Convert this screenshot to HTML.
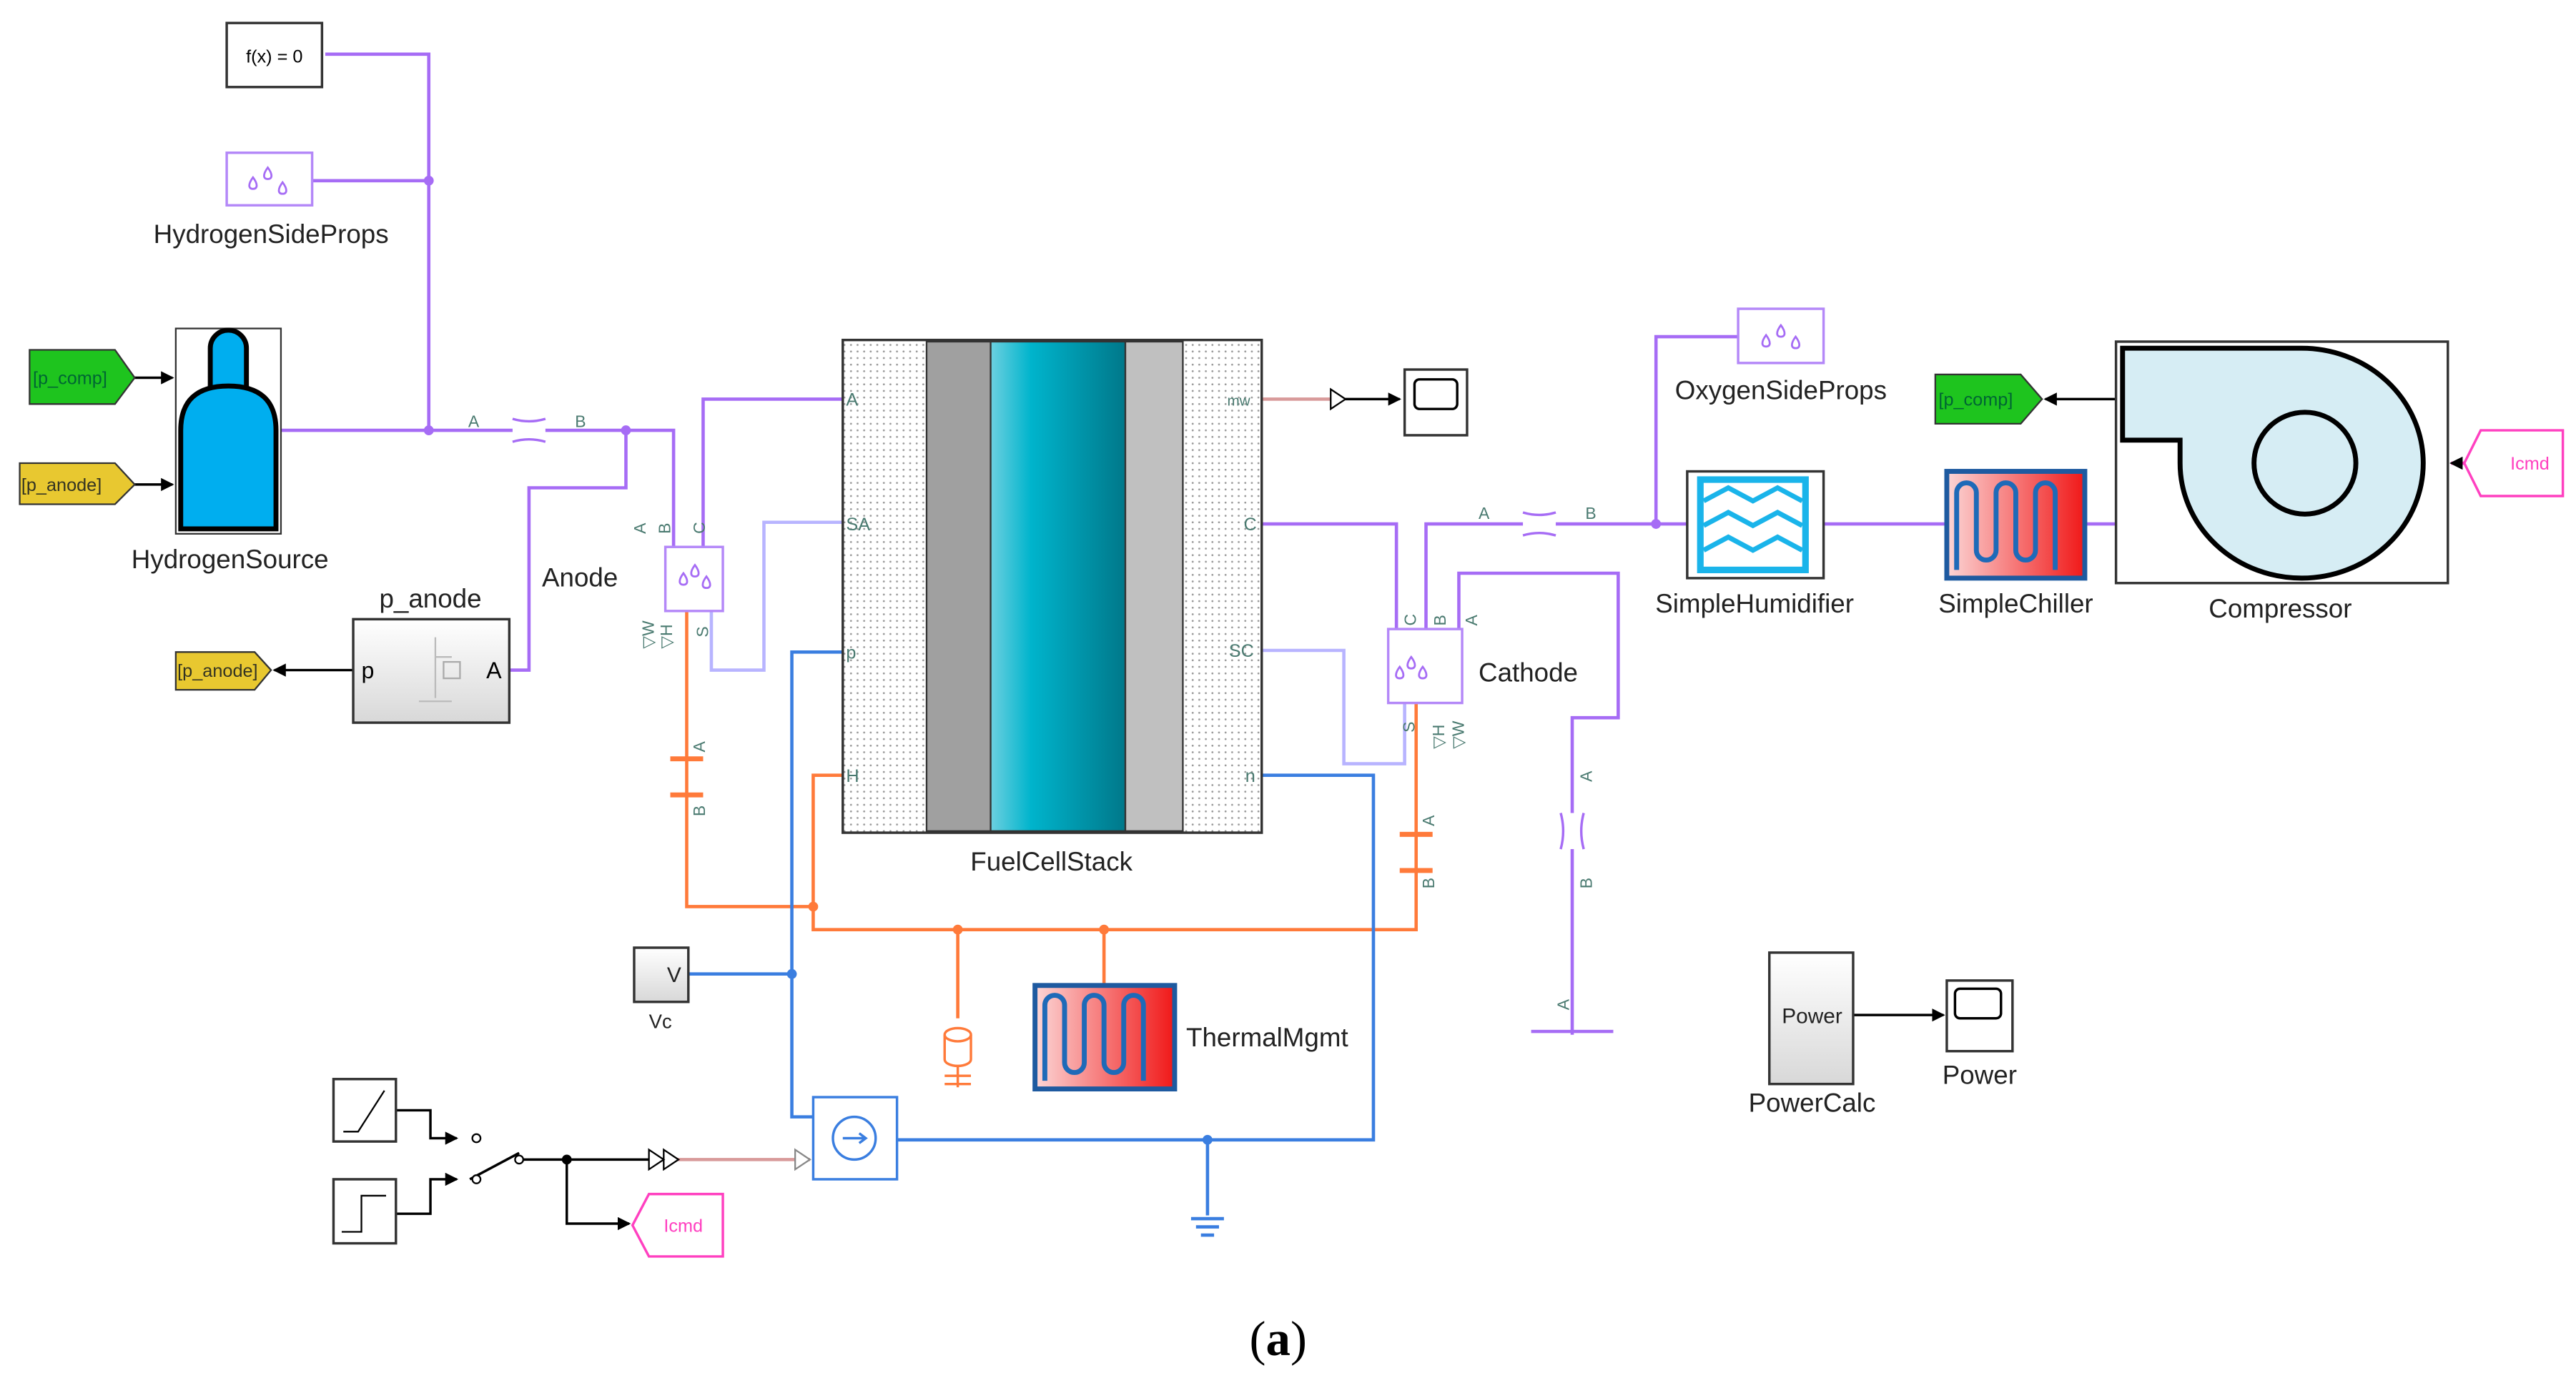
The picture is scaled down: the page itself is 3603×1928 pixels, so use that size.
<!DOCTYPE html>
<html><head><meta charset="utf-8"><style>html,body{margin:0;padding:0;background:#fff}svg{display:block}</style></head>
<body>
<svg width="3603" height="1928" viewBox="0 0 1568 839" preserveAspectRatio="none" xmlns="http://www.w3.org/2000/svg" font-family="Liberation Sans, sans-serif">
<defs>
<pattern id="dots" width="4" height="4" patternUnits="userSpaceOnUse"><rect width="4" height="4" fill="#fff"/><circle cx="2" cy="2" r="0.6" fill="#999"/></pattern>
<linearGradient id="cyan" x1="0" x2="1"><stop offset="0" stop-color="#6cd0e0"/><stop offset="0.3" stop-color="#00b4cc"/><stop offset="1" stop-color="#00788a"/></linearGradient>
<linearGradient id="red" x1="0" x2="1"><stop offset="0" stop-color="#fcd6d6"/><stop offset="1" stop-color="#f01818"/></linearGradient>
<linearGradient id="gray" x1="0" x2="0" y1="0" y2="1"><stop offset="0" stop-color="#fff"/><stop offset="1" stop-color="#d8d8d8"/></linearGradient>
<marker id="ar" markerWidth="8" markerHeight="8" refX="7" refY="4" orient="auto" markerUnits="userSpaceOnUse"><path d="M0,0L8,4L0,8z" fill="#000"/></marker>
<path id="drop" d="M0,-4C3,0 3,3 0,3C-3,3 -3,0 0,-4z" fill="none" stroke="#a66cf5" stroke-width="1.2"/>
</defs>
<g fill="none" stroke-width="2">
<g stroke="#a66cf5">
<path d="M198,33H261V262"/><path d="M190,110H261"/>
<path d="M171,262H312M332,262H410V345"/>
<path d="M381,262V297H322V408H310"/>
<path d="M428,345V243H513"/>
<path d="M850,385V319H768"/>
<path d="M868,385V319H927M947,319H1027"/>
<path d="M1058,205H1008V319"/>
<path d="M888,385V349H985V437H957V495M957,517V630"/>
<path d="M932,628H982"/>
<path d="M1110,319H1185M1269,319H1288"/>
<path d="M312,255q10,3 20,0M312,269q10,-3 20,0" stroke-width="1.5"/>
<path d="M927,312q10,3 20,0M927,326q10,-3 20,0" stroke-width="1.5"/>
<path d="M950,495q3,11 0,22M964,495q-3,11 0,22" stroke-width="1.5"/>
</g>
<g stroke="#b8b4ff"><path d="M433,372V408H465V318H513"/><path d="M855,428V465H818V396H768"/></g>
<g stroke="#ff7a3a">
<path d="M418,360V552H495V472H513"/><path d="M495,552V566H862V420"/>
<path d="M583,566V620M672,566V600"/>
<path d="M408,462H428M408,484H428M852,508H872M852,530H872" stroke-width="3"/>
</g>
<g stroke="#3a7ee0">
<path d="M513,397H482V680H495"/><path d="M419,593H482"/>
<path d="M546,694H836V472H768"/><path d="M735,694V740"/>
<path d="M725,742H745M728,747H742M731,752H739"/>
</g>
<path d="M768,243H810" stroke="#d89a9a"/>
<path d="M410,706H493" stroke="#d89a9a"/>
<g stroke="#000" stroke-width="1.5">
<path d="M818,243H852" marker-end="url(#ar)"/>
<path d="M82,230H105" marker-end="url(#ar)"/><path d="M82,295H105" marker-end="url(#ar)"/>
<path d="M215,408H167" marker-end="url(#ar)"/>
<path d="M1288,243H1245" marker-end="url(#ar)"/>
<path d="M1128,618H1183" marker-end="url(#ar)"/>
<path d="M241,676H262V693H278" marker-end="url(#ar)"/>
<path d="M241,739H262V718H278" marker-end="url(#ar)"/>
<path d="M286,718L316,702M318,706H395"/>
<path d="M345,706V745H383" marker-end="url(#ar)"/>
</g>
<path d="M1500,282H1492" stroke="#ff40c0" stroke-width="2" marker-end="url(#ar)"/>
</g>
<g fill="#a66cf5"><circle cx="261" cy="110" r="3"/><circle cx="261" cy="262" r="3"/><circle cx="381" cy="262" r="3"/><circle cx="1008" cy="319" r="3"/></g>
<g fill="#ff7a3a"><circle cx="495" cy="552" r="3"/><circle cx="583" cy="566" r="3"/><circle cx="672" cy="566" r="3"/></g>
<g fill="#3a7ee0"><circle cx="482" cy="593" r="3"/><circle cx="735" cy="694" r="3"/></g>
<circle cx="345" cy="706" r="3"/>
<circle cx="290" cy="693" r="2.5" fill="#fff" stroke="#000"/><circle cx="290" cy="718" r="2.5" fill="#fff" stroke="#000"/><circle cx="316" cy="706" r="2.5" fill="#fff" stroke="#000"/>
<path d="M395,700L404,706L395,712zM404,700L413,706L404,712z" fill="#fff" stroke="#000"/>
<path d="M810,237L819,243L810,249z" fill="#fff" stroke="#000"/>
<path d="M484,700L493,706L484,712z" fill="#fff" stroke="#888"/>
<rect x="138" y="14" width="58" height="39" fill="#fff" stroke="#333" stroke-width="1.5"/>
<text x="167" y="38" font-size="11" text-anchor="middle">f(x) = 0</text>
<rect x="138" y="93" width="52" height="32" fill="#fff" stroke="#b488f8" stroke-width="1.5"/>
<use href="#drop" x="154" y="112"/><use href="#drop" x="163" y="106"/><use href="#drop" x="172" y="115"/>
<text x="165" y="148" font-size="16" text-anchor="middle" fill="#222">HydrogenSideProps</text>
<rect x="1058" y="188" width="52" height="33" fill="#fff" stroke="#b488f8" stroke-width="1.5"/>
<use href="#drop" x="1075" y="208"/><use href="#drop" x="1084" y="202"/><use href="#drop" x="1093" y="209"/>
<text x="1084" y="243" font-size="16" text-anchor="middle" fill="#222">OxygenSideProps</text>
<rect x="107" y="200" width="64" height="125" fill="#fff" stroke="#333"/>
<path d="M128,240V212a11,11 0 0 1 22,0V240" fill="#00aeef" stroke="#000" stroke-width="3"/>
<path d="M110,322V262q0,-27 29,-27q29,0 29,27V322z" fill="#00aeef" stroke="#000" stroke-width="3"/>
<text x="140" y="346" font-size="16" text-anchor="middle" fill="#222">HydrogenSource</text>
<path d="M18,213H70L82,230L70,246H18z" fill="#1ec41e" stroke="#333"/><text x="20" y="234" font-size="11" fill="#063">[p_comp]</text>
<path d="M12,282H70L82,295L70,307H12z" fill="#e8c830" stroke="#333"/><text x="13" y="299" font-size="11" fill="#332">[p_anode]</text>
<path d="M107,397H155L165,408L155,420H107z" fill="#e8c830" stroke="#333"/><text x="108" y="412" font-size="11" fill="#332">[p_anode]</text>
<path d="M1178,228H1230L1243,243L1230,258H1178z" fill="#1ec41e" stroke="#333"/><text x="1180" y="247" font-size="11" fill="#063">[p_comp]</text>
<path d="M1510,262H1560V302H1510L1500,282z" fill="#fff" stroke="#ff40c0" stroke-width="1.5"/><text x="1528" y="286" font-size="11" fill="#ff40c0">Icmd</text>
<path d="M395,727H440V765H395L385,746z" fill="#fff" stroke="#ff40c0" stroke-width="1.5"/><text x="404" y="750" font-size="11" fill="#ff40c0">Icmd</text>
<rect x="215" y="377" width="95" height="63" fill="url(#gray)" stroke="#333" stroke-width="1.5"/>
<text x="262" y="370" font-size="16" text-anchor="middle" fill="#222">p_anode</text>
<text x="220" y="413" font-size="14">p</text><text x="296" y="413" font-size="14">A</text>
<path d="M265,388V425M265,400H275M255,427H275" stroke="#bbb" fill="none"/><rect x="270" y="403" width="10" height="10" fill="none" stroke="#aaa"/>
<text x="353" y="357" font-size="16" text-anchor="middle" fill="#222">Anode</text>
<rect x="405" y="333" width="35" height="39" fill="#fff" stroke="#b488f8" stroke-width="1.5"/>
<use href="#drop" x="416" y="353"/><use href="#drop" x="423" y="348"/><use href="#drop" x="430" y="355"/>
<g font-size="10" fill="#4a7a70">
<text transform="translate(393,325) rotate(-90)">A</text><text transform="translate(408,325) rotate(-90)">B</text><text transform="translate(429,325) rotate(-90)">C</text>
<text transform="translate(398,395) rotate(-90)">▽W</text><text transform="translate(409,395) rotate(-90)">▽H</text><text transform="translate(431,388) rotate(-90)">S</text>
<text transform="translate(429,458) rotate(-90)">A</text><text transform="translate(429,497) rotate(-90)">B</text>
<text transform="translate(862,381) rotate(-90)">C</text><text transform="translate(880,381) rotate(-90)">B</text><text transform="translate(899,381) rotate(-90)">A</text>
<text transform="translate(861,446) rotate(-90)">S</text><text transform="translate(879,456) rotate(-90)">▽H</text><text transform="translate(891,456) rotate(-90)">▽W</text>
<text transform="translate(873,503) rotate(-90)">A</text><text transform="translate(873,541) rotate(-90)">B</text>
<text transform="translate(969,476) rotate(-90)">A</text><text transform="translate(969,541) rotate(-90)">B</text><text transform="translate(955,615) rotate(-90)">A</text>
<text x="285" y="260">A</text><text x="350" y="260">B</text><text x="900" y="316">A</text><text x="965" y="316">B</text>
</g>
<rect x="845" y="383" width="45" height="45" fill="#fff" stroke="#b488f8" stroke-width="1.5"/>
<use href="#drop" x="852" y="410"/><use href="#drop" x="859" y="404"/><use href="#drop" x="866" y="410"/>
<text x="900" y="415" font-size="16" fill="#222">Cathode</text>
<rect x="513" y="207" width="255" height="300" fill="url(#dots)" stroke="#333" stroke-width="1.5"/>
<rect x="564" y="208" width="39" height="298" fill="#a0a0a0" stroke="#333"/>
<rect x="603" y="208" width="82" height="298" fill="url(#cyan)" stroke="#333"/>
<rect x="685" y="208" width="35" height="298" fill="#c0c0c0" stroke="#333"/>
<g font-size="11" fill="#4a7a70">
<text x="515" y="247">A</text><text x="515" y="323">SA</text><text x="515" y="401">p</text><text x="515" y="476">H</text>
<text x="747" y="247" font-size="9">mw</text><text x="757" y="323">C</text><text x="748" y="400">SC</text><text x="758" y="476">n</text></g>
<text x="640" y="530" font-size="16" text-anchor="middle" fill="#222">FuelCellStack</text>
<rect x="855" y="225" width="38" height="40" fill="#fff" stroke="#333" stroke-width="1.5"/><rect x="861" y="231" width="26" height="18" rx="3" fill="#fff" stroke="#000" stroke-width="1.5"/>
<rect x="1027" y="287" width="83" height="65" fill="#fff" stroke="#333" stroke-width="1.5"/>
<rect x="1035" y="292" width="64" height="55" fill="#fff" stroke="#1ab4ea" stroke-width="4"/>
<path d="M1037,305l15,-8l15,8l15,-8l15,8M1037,320l15,-8l15,8l15,-8l15,8M1037,335l15,-8l15,8l15,-8l15,8" fill="none" stroke="#1ab4ea" stroke-width="3"/>
<text x="1068" y="373" font-size="16" text-anchor="middle" fill="#222">SimpleHumidifier</text>
<rect x="1185" y="287" width="84" height="65" fill="url(#red)" stroke="#1e5aa0" stroke-width="3"/>
<path d="M1191,347V300a6,6 0 0 1 12,0V335a6,6 0 0 0 12,0V300a6,6 0 0 1 12,0V335a6,6 0 0 0 12,0V300a6,6 0 0 1 12,0V347" fill="none" stroke="#1e6ab8" stroke-width="3"/>
<text x="1227" y="373" font-size="16" text-anchor="middle" fill="#222">SimpleChiller</text>
<rect x="630" y="600" width="85" height="63" fill="url(#red)" stroke="#1e5aa0" stroke-width="3"/>
<path d="M636,658V612a6,6 0 0 1 12,0V647a6,6 0 0 0 12,0V612a6,6 0 0 1 12,0V647a6,6 0 0 0 12,0V612a6,6 0 0 1 12,0V658" fill="none" stroke="#1e6ab8" stroke-width="3"/>
<text x="722" y="637" font-size="16" fill="#222">ThermalMgmt</text>
<path d="M575,630V645a8,4 0 0 0 16,0V630" fill="#fff" stroke="#ff7a3a" stroke-width="1.5"/><ellipse cx="583" cy="630" rx="8" ry="4" fill="#fff" stroke="#ff7a3a" stroke-width="1.5"/>
<path d="M583,649V662M575,655H591M575,660H591" stroke="#ff7a3a" stroke-width="1.5"/>
<rect x="1288" y="208" width="202" height="147" fill="#fff" stroke="#333" stroke-width="1.5"/>
<path d="M1292,212H1400A74,70 0 1 1 1327,282V268H1292z" fill="#d6edf4" stroke="#000" stroke-width="3"/>
<circle cx="1403" cy="282" r="31" fill="#d6edf4" stroke="#000" stroke-width="3"/>
<text x="1388" y="376" font-size="16" text-anchor="middle" fill="#222">Compressor</text>
<rect x="386" y="577" width="33" height="33" fill="url(#gray)" stroke="#333" stroke-width="1.5"/>
<text x="406" y="598" font-size="13" fill="#222">V</text>
<text x="402" y="626" font-size="12" text-anchor="middle" fill="#222">Vc</text>
<rect x="495" y="668" width="51" height="50" fill="#fff" stroke="#3a7ee0" stroke-width="1.5"/>
<circle cx="520" cy="693" r="13" fill="#fff" stroke="#3a7ee0" stroke-width="1.5"/>
<path d="M513,693H527M523,690L527,693L523,696" stroke="#3a7ee0" fill="none" stroke-width="1.5"/>
<rect x="203" y="657" width="38" height="38" fill="#fff" stroke="#333" stroke-width="1.5"/><path d="M209,689H218L234,664" stroke="#000" fill="none"/>
<rect x="203" y="718" width="38" height="39" fill="#fff" stroke="#333" stroke-width="1.5"/><path d="M208,750H220V728H235" stroke="#000" fill="none"/>
<rect x="1077" y="580" width="51" height="80" fill="url(#gray)" stroke="#333" stroke-width="1.5"/>
<text x="1103" y="623" font-size="13" text-anchor="middle" fill="#222">Power</text>
<text x="1103" y="677" font-size="16" text-anchor="middle" fill="#222">PowerCalc</text>
<rect x="1185" y="597" width="40" height="43" fill="#fff" stroke="#333" stroke-width="1.5"/><rect x="1190" y="602" width="28" height="18" rx="3" fill="#fff" stroke="#000" stroke-width="1.5"/>
<text x="1205" y="660" font-size="16" text-anchor="middle" fill="#222">Power</text>
<text x="778" y="825" font-size="30" text-anchor="middle" font-family="Liberation Serif, serif">(<tspan font-weight="bold">a</tspan>)</text>
</svg>
</body></html>
